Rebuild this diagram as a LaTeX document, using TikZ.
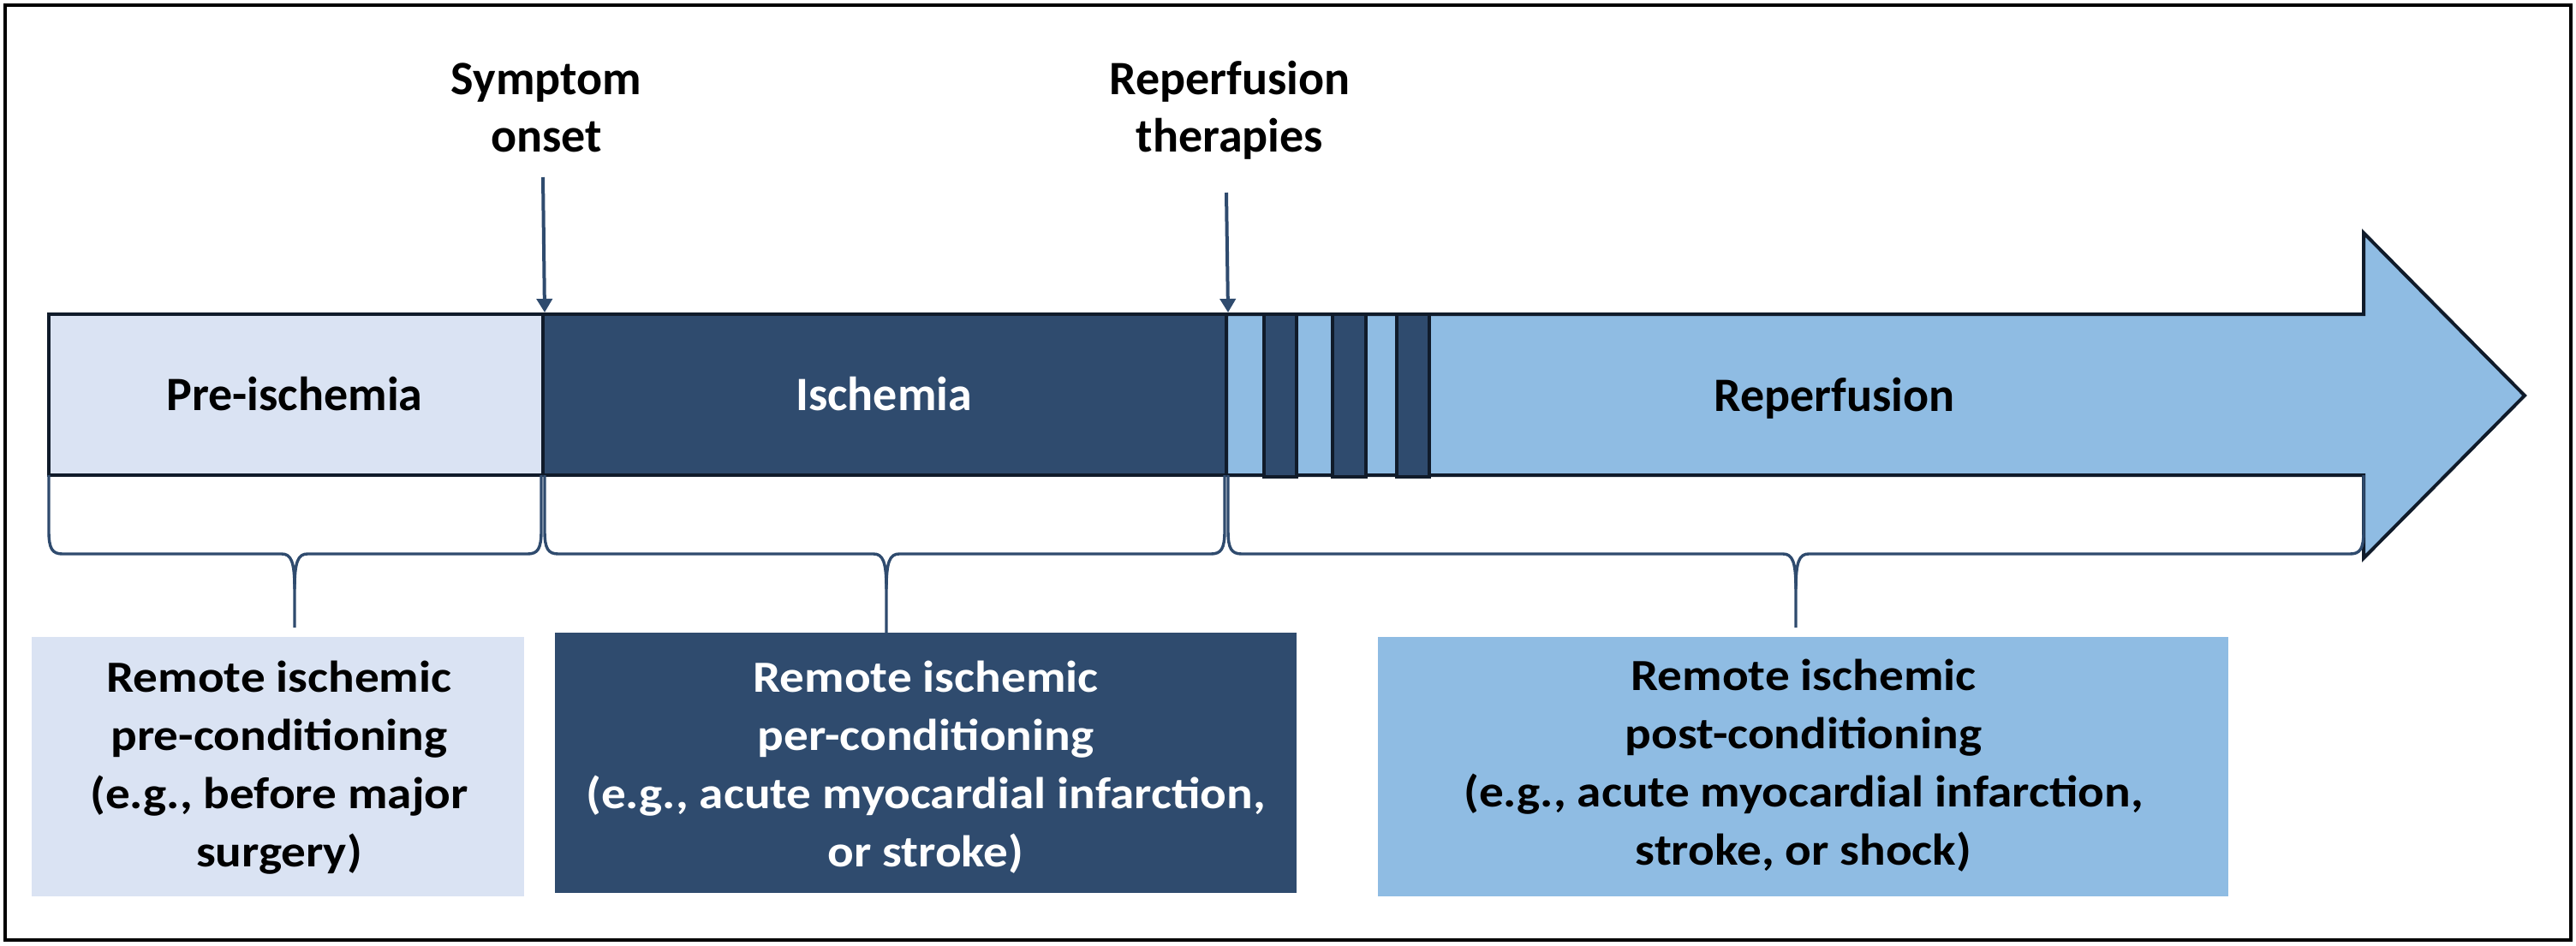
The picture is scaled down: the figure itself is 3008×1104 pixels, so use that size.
\documentclass[tikz,border=0pt]{standalone}
\usepackage{fontspec}
\setmainfont{Carlito}
\newfontfamily\boxfont{Carlito}[FakeStretch=1.1]
\usetikzlibrary{arrows.meta}
\definecolor{lightb}{HTML}{DAE3F3}
\definecolor{darkb}{HTML}{2F4B6E}
\definecolor{medb}{HTML}{8FBCE3}
\definecolor{edgec}{HTML}{101B2A}
\newcommand{\bracepath}[4]{%
  \draw[bracestyle] (#1,555) -- (#1,620) .. controls (#1,641) and (#1+4,647) .. (#1+16,647) -- (#2-15,647) .. controls (#2-4,647) and (#2,656) .. (#2,688) -- (#2,#4);
  \draw[bracestyle] (#2,688) .. controls (#2,656) and (#2+4,647) .. (#2+15,647) -- (#3-16,647) .. controls (#3-4,647) and (#3,641) .. (#3,620) -- (#3,555);
}
\begin{document}
\begin{tikzpicture}[x=0.25pt,y=-0.25pt,
  seg/.style={draw=edgec,line width=1pt},
  toplbl/.style={font=\fontsize{14}{16.75}\selectfont\bfseries,align=center,inner sep=0pt,anchor=base},
  barlbl/.style={font=\fontsize{14}{16.75}\selectfont\bfseries,inner sep=0pt,anchor=base},
  boxtxt/.style={font=\boxfont\bfseries\fontsize{13}{17}\selectfont,align=center,inner sep=0pt,anchor=base},
  cbox/.style={inner sep=0pt,draw=none,minimum height=75.75pt},
  bracestyle/.style={draw=darkb,line width=0.85pt},
  marker/.style={draw=darkb,line width=1pt,-{Triangle[width=4.5pt,length=4pt]}}]

\useasboundingbox (0,0) rectangle (3008,1104);
\draw[line width=1pt] (6,6) rectangle (3002,1098);

% timeline arrow (reperfusion)
\draw[seg,fill=medb,line join=miter] (1432,367) -- (2760,367) -- (2760,272) -- (2948,462) -- (2760,652) -- (2760,555) -- (1432,555) -- cycle;
\node[seg,fill=lightb,minimum width=144.25pt,minimum height=47pt,inner sep=0pt] (pre) at (345.5,461) {};
\node[seg,fill=darkb,minimum width=199.5pt,minimum height=47pt,inner sep=0pt] (isc) at (1033,461) {};
\node[seg,fill=darkb,minimum width=9.5pt,minimum height=47.5pt,inner sep=0pt] (p1) at (1495,462) {};
\node[seg,fill=darkb,minimum width=9.75pt,minimum height=47.5pt,inner sep=0pt] (p2) at (1575.5,462) {};
\node[seg,fill=darkb,minimum width=9.5pt,minimum height=47.5pt,inner sep=0pt] (p3) at (1650,462) {};

\node[barlbl] (tpre) at (344,479) {Pre-ischemia};
\node[barlbl,text=white] (tisc) at (1032,479) {Ischemia};
\node[barlbl] (trep) at (2142,480) {Reperfusion};

% top labels and markers
\node[toplbl] (onset) at (638,177) {Symptom\\onset};
\node[toplbl] (therapy) at (1436,177) {Reperfusion\\therapies};
\coordinate (onsetTail) at (634,207);
\coordinate (therapyTail) at (1432,225);
\draw[marker] (onsetTail) -- (pre.north east);
\draw[marker] (therapyTail) -- (isc.north east);

% braces
\bracepath{57}{344}{632}{733}
\bracepath{636}{1035}{1430}{739}
\bracepath{1434}{2097}{2760}{733}

% bottom boxes
\node[cbox,fill=lightb,minimum width=143.75pt] (rpre) at (324.5,895.5) {};
\node[cbox,fill=darkb,minimum width=216.5pt,minimum height=76pt] (rper) at (1081,891) {};
\node[cbox,fill=medb,minimum width=248.25pt] (rpost) at (2105.5,895.5) {};

\node[boxtxt] (tpreb) at (326,1012) {Remote ischemic\\pre-conditioning\\(e.g., before major\\surgery)};
\node[boxtxt,text=white] (tperb) at (1081,1012) {Remote ischemic\\per-conditioning\\(e.g., acute myocardial infarction,\\or stroke)};
\node[boxtxt] (tpostb) at (2106,1010) {Remote ischemic\\post-conditioning\\(e.g., acute myocardial infarction,\\stroke, or shock)};
\end{tikzpicture}
\end{document}
